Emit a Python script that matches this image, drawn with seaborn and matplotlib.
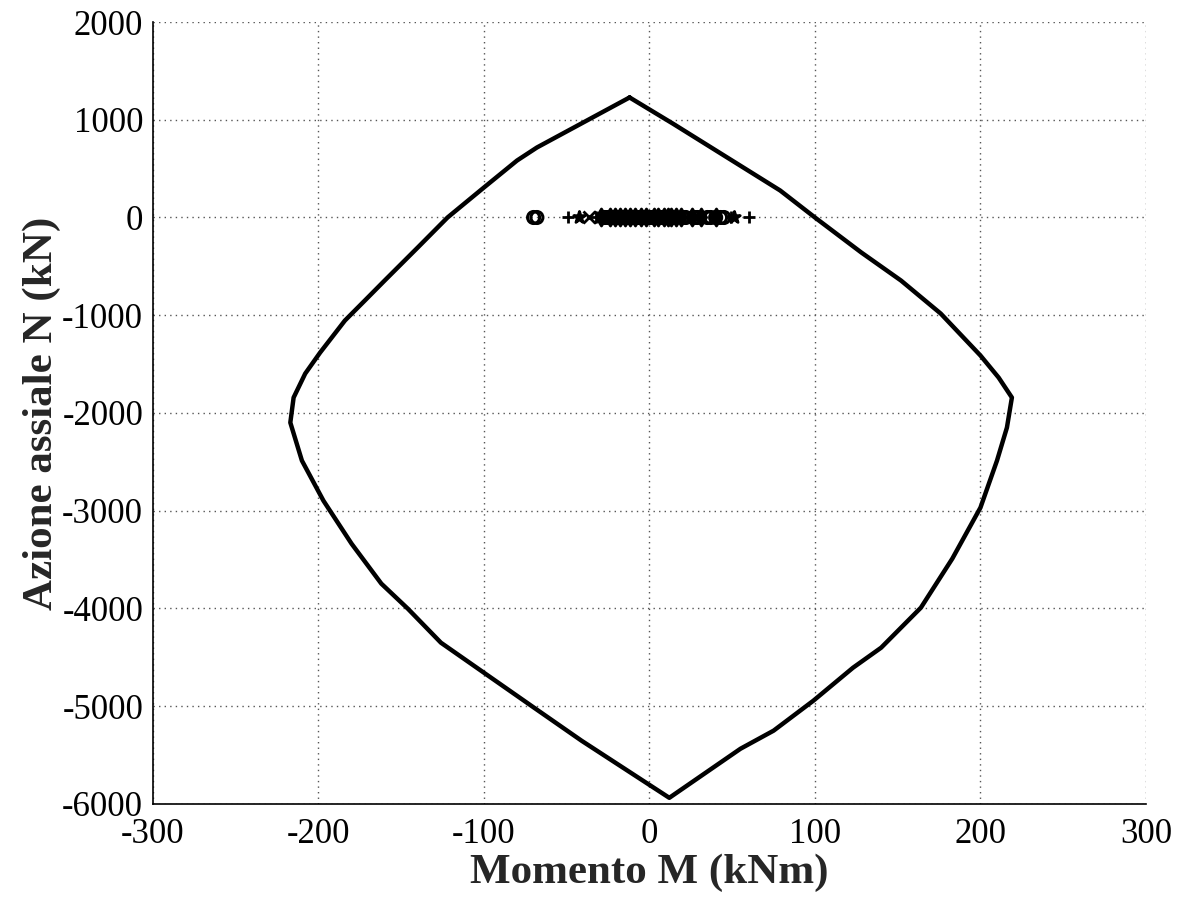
import numpy as np
import pandas as pd
import matplotlib
matplotlib.use("Agg")
import matplotlib.pyplot as plt
import seaborn as sns

# Interaction domain contour (M in kNm, N in kN)
dominio_M = [-12, 14, 79, 100, 128, 152, 176, 200, 211, 219, 216, 210, 200, 183,
             164, 140, 123, 99, 75, 55, 12, -41, -71, -126, -146, -162, -180,
             -197, -210, -217, -215, -208, -199, -184, -172, -160, -140, -122,
             -100, -80, -68, -12]
dominio_N = [1228, 962, 276, 0, -358, -645, -983, -1412, -1638, -1842, -2149,
             -2487, -2968, -3490, -3992, -4401, -4606, -4944, -5250, -5435,
             -5937, -5353, -5000, -4350, -4002, -3746, -3337, -2897, -2487,
             -2098, -1842, -1597, -1382, -1054, -850, -645, -307, 0, 307, 583,
             716, 1228]

# Load points (all at N = 0), grouped by marker type
M_cerchi = [-70, -68, -27, -25, -22, -19, -16, -13, -10, -8, -6, -3, -1, 0, 2,
            4, 6, 8, 10, 12, 14, 20, 22, 27, 29, 35, 37, 40, 43, 45]
M_piu = [-49, -32, -28, -14, -4, 4, 14, 49, 60]
M_croci = [-36.5, -30, -20, -8, 7]
M_stelle = [-42.5, -26, -11, 1, 10, 51]
M_rombi = [-29, -24, -21, -18, -15, -12, -9, -5, -2, 3, 5, 9, 11, 13, 16,
           19, 26, 31, 40]

x_ticks = [-300, -200, -100, 0, 100, 200, 300]
y_ticks = [-6000, -5000, -4000, -3000, -2000, -1000, 0, 1000, 2000]

sns.set_style("white")
plt.rcParams["font.family"] = ["Liberation Serif", "DejaVu Serif"]

fig = plt.figure(figsize=(11.82, 8.98), dpi=100)
ax = fig.add_axes([0.1294, 0.1047, 0.8401, 0.8708])

df_dom = pd.DataFrame({"M": dominio_M, "N": dominio_N})
sns.lineplot(data=df_dom, x="M", y="N", sort=False, estimator=None,
             color="black", linewidth=3.2, ax=ax, zorder=3)

gruppi = [(M_cerchi, "o", "none"), (M_piu, "+", None), (M_croci, "x", None),
          (M_stelle, "*", None), (M_rombi, "d", None)]
for vals, mk, fc in gruppi:
    d = pd.DataFrame({"M": vals, "N": [0] * len(vals)})
    if fc == "none":
        sns.scatterplot(data=d, x="M", y="N", marker=mk, s=75,
                        facecolors="none", edgecolor="black", linewidth=2.2,
                        ax=ax, zorder=4)
    else:
        sns.scatterplot(data=d, x="M", y="N", marker=mk, s=75,
                        color="black", edgecolor="black", linewidth=2,
                        ax=ax, zorder=4)

ax.set_xlim(-300, 300)
ax.set_ylim(-6000, 2000)
ax.set_xticks(x_ticks)
ax.set_yticks(y_ticks)
ax.set_xticklabels([str(v) for v in x_ticks])
ax.set_yticklabels([str(v) for v in y_ticks])

ax.grid(True, linestyle=(0, (1, 3)), color="#555555", linewidth=1.0)
for s in ["top", "right"]:
    ax.spines[s].set_visible(False)
for s in ["left", "bottom"]:
    ax.spines[s].set_color("black")
    ax.spines[s].set_linewidth(1.2)

ax.tick_params(axis="both", direction="in", length=5, width=1,
               labelsize=25, colors="black")
ax.tick_params(axis="x", pad=10)
ax.tick_params(axis="y", pad=7)

ax.set_xlabel("Momento M (kNm)", fontsize=31, fontweight="bold", labelpad=2)
ax.set_ylabel("Azione assiale N (kN)", fontsize=31, fontweight="bold", labelpad=1)

fig.savefig("out.png", dpi=100, facecolor="white")
